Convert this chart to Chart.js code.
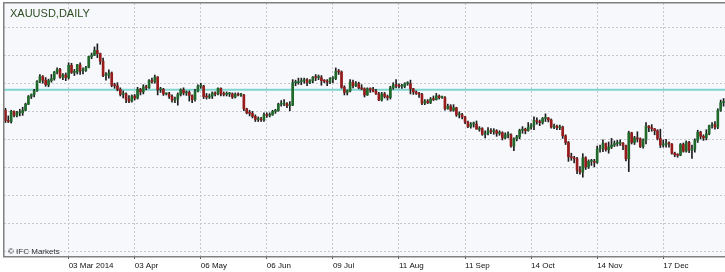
<!DOCTYPE html>
<html>
<head>
<meta charset="utf-8">
<title>XAUUSD, Daily</title>
<script src="https://cdn.jsdelivr.net/npm/chart.js@4.4.1/dist/chart.umd.min.js"></script>
<style>
    html, body { margin: 0; padding: 0; background: #ffffff; overflow: hidden; }
    #wrap { width: 725px; height: 272px; }
    #goldChart { display: block; }
</style>
</head>
<body>
<div id="wrap"><canvas id="goldChart" width="725" height="272"></canvas></div>
<script>
// ----------------- Données -----------------//
const firstDay = '2014-01-30';
const noBarDays = ['2014-12-25', '2015-01-01']; // pas de bougie ces jours-là

// labels de l'axe X et barre correspondante
const tickLabels = ['03 Mar 2014', '03 Apr', '06 May', '06 Jun', '09 Jul', '11 Aug', '11 Sep', '14 Oct', '14 Nov', '17 Dec'];
const tickBars = [22, 45, 68, 91, 114, 137, 160, 183, 206, 229];

// lignes de grille horizontales (prix) et ligne horizontale turquoise
const gridLevels = [1425, 1370, 1315, 1260, 1205, 1150, 1095, 1040, 985];
const levelLine = 1302;
const priceMin = 976.75;
const priceMax = 1472;

const opens = [
    1262, 1242, 1240, 1260, 1252, 1257, 1257, 1262, 1274, 1289,
    1293, 1300, 1318, 1328, 1321, 1312, 1320, 1324, 1337, 1342,
    1327, 1331, 1326, 1350, 1336, 1337, 1351, 1339, 1340, 1346,
    1367, 1370, 1379, 1373, 1358, 1330, 1331, 1335, 1311, 1310,
    1303, 1293, 1294, 1284, 1280, 1290, 1286, 1303, 1298, 1308,
    1306, 1320, 1318, 1327, 1302, 1303, 1294, 1294, 1289, 1282,
    1284, 1293, 1302, 1296, 1297, 1291, 1283, 1299, 1309, 1309,
    1289, 1288, 1290, 1296, 1294, 1305, 1294, 1293, 1294, 1294,
    1288, 1293, 1292, 1292, 1265, 1257, 1256, 1250, 1244, 1244,
    1243, 1253, 1252, 1253, 1260, 1261, 1274, 1274, 1275, 1271,
    1272, 1316, 1316, 1318, 1320, 1322, 1316, 1320, 1327, 1326,
    1326, 1320, 1319, 1317, 1324, 1324, 1338, 1337, 1307, 1297,
    1300, 1317, 1310, 1314, 1306, 1304, 1292, 1304, 1303, 1299,
    1294, 1282, 1294, 1289, 1287, 1306, 1312, 1310, 1309, 1309,
    1314, 1314, 1304, 1298, 1295, 1293, 1276, 1280, 1277, 1284,
    1283, 1290, 1287, 1287, 1265, 1270, 1262, 1267, 1253, 1253,
    1249, 1239, 1230, 1235, 1235, 1225, 1226, 1215, 1217, 1222,
    1220, 1222, 1217, 1218, 1208, 1214, 1214, 1192, 1206, 1210,
    1223, 1225, 1222, 1229, 1233, 1242, 1240, 1238, 1246, 1247,
    1243, 1229, 1231, 1228, 1229, 1212, 1199, 1171, 1169, 1167,
    1145, 1141, 1169, 1151, 1162, 1162, 1160, 1186, 1188, 1197,
    1185, 1190, 1194, 1197, 1197, 1198, 1193, 1167, 1218, 1199,
    1208, 1206, 1191, 1204, 1231, 1228, 1226, 1222, 1207, 1194,
    1195, 1198, 1196, 1178, 1175, 1174, 1195, 1182, 1199, 1184,
    1186, 1203, 1219, 1211, 1208, 1216, 1232, 1234, 1229, 1262, 1277
];
const highs = [
    1266, 1251, 1262, 1261, 1260, 1264, 1268, 1276, 1291, 1294,
    1303, 1320, 1332, 1330, 1326, 1323, 1332, 1338, 1345, 1344,
    1334, 1335, 1355, 1354, 1342, 1352, 1355, 1345, 1348, 1368,
    1374, 1386, 1392, 1374, 1364, 1336, 1341, 1337, 1315, 1316,
    1306, 1300, 1296, 1291, 1292, 1293, 1307, 1305, 1312, 1311,
    1322, 1325, 1331, 1328, 1307, 1305, 1296, 1297, 1292, 1288,
    1296, 1304, 1306, 1300, 1300, 1292, 1303, 1312, 1315, 1311,
    1295, 1294, 1298, 1298, 1306, 1306, 1298, 1298, 1297, 1296,
    1296, 1296, 1295, 1293, 1266, 1262, 1260, 1253, 1249, 1248,
    1257, 1257, 1257, 1262, 1264, 1276, 1281, 1283, 1277, 1279,
    1322, 1321, 1325, 1325, 1325, 1324, 1322, 1328, 1332, 1331,
    1330, 1322, 1322, 1326, 1328, 1345, 1342, 1339, 1310, 1302,
    1322, 1321, 1318, 1317, 1312, 1306, 1306, 1306, 1307, 1303,
    1297, 1297, 1297, 1292, 1309, 1316, 1322, 1314, 1313, 1316,
    1318, 1321, 1305, 1300, 1297, 1295, 1283, 1283, 1287, 1290,
    1295, 1292, 1290, 1289, 1274, 1273, 1273, 1268, 1259, 1256,
    1250, 1241, 1238, 1239, 1241, 1230, 1228, 1222, 1228, 1226,
    1226, 1224, 1222, 1220, 1218, 1220, 1216, 1208, 1213, 1225,
    1230, 1227, 1238, 1236, 1249, 1247, 1243, 1248, 1255, 1248,
    1245, 1235, 1233, 1233, 1231, 1214, 1201, 1178, 1172, 1170,
    1152, 1177, 1171, 1165, 1166, 1166, 1192, 1194, 1204, 1198,
    1200, 1207, 1202, 1203, 1204, 1199, 1194, 1221, 1219, 1211,
    1220, 1208, 1206, 1238, 1232, 1234, 1226, 1224, 1225, 1204,
    1205, 1200, 1197, 1180, 1177, 1197, 1198, 1202, 1201, 1194,
    1206, 1223, 1221, 1214, 1224, 1233, 1238, 1240, 1265, 1282, 1285
];
const lows = [
    1238, 1238, 1237, 1249, 1249, 1251, 1252, 1261, 1273, 1285,
    1288, 1299, 1316, 1315, 1309, 1308, 1317, 1321, 1333, 1325,
    1322, 1320, 1323, 1334, 1330, 1333, 1332, 1333, 1338, 1345,
    1363, 1369, 1365, 1352, 1328, 1321, 1325, 1308, 1305, 1300,
    1290, 1286, 1277, 1277, 1278, 1282, 1284, 1292, 1294, 1302,
    1305, 1315, 1315, 1292, 1297, 1291, 1292, 1285, 1278, 1277,
    1272, 1290, 1292, 1291, 1280, 1277, 1280, 1298, 1305, 1285,
    1284, 1285, 1285, 1290, 1292, 1290, 1290, 1290, 1289, 1285,
    1286, 1290, 1289, 1261, 1255, 1251, 1247, 1240, 1240, 1240,
    1240, 1248, 1249, 1252, 1256, 1260, 1270, 1271, 1267, 1261,
    1271, 1310, 1313, 1312, 1315, 1310, 1314, 1316, 1320, 1322,
    1311, 1316, 1310, 1314, 1316, 1322, 1332, 1305, 1292, 1292,
    1298, 1306, 1308, 1304, 1302, 1288, 1291, 1297, 1298, 1293,
    1281, 1280, 1286, 1282, 1284, 1303, 1306, 1306, 1305, 1306,
    1311, 1294, 1293, 1293, 1287, 1273, 1273, 1275, 1275, 1281,
    1282, 1284, 1285, 1262, 1264, 1260, 1260, 1250, 1247, 1245,
    1236, 1228, 1227, 1229, 1225, 1221, 1213, 1208, 1214, 1216,
    1215, 1211, 1213, 1204, 1206, 1208, 1190, 1183, 1202, 1206,
    1217, 1216, 1221, 1225, 1224, 1235, 1232, 1235, 1240, 1239,
    1227, 1226, 1224, 1224, 1207, 1195, 1162, 1164, 1159, 1138,
    1137, 1131, 1146, 1148, 1154, 1151, 1158, 1180, 1181, 1182,
    1178, 1187, 1191, 1192, 1193, 1185, 1163, 1142, 1196, 1195,
    1200, 1189, 1188, 1196, 1220, 1221, 1214, 1204, 1189, 1190,
    1190, 1190, 1176, 1171, 1170, 1173, 1180, 1180, 1179, 1168,
    1180, 1199, 1206, 1203, 1204, 1214, 1227, 1225, 1226, 1260, 1270
];
const closes = [
    1242, 1240, 1260, 1252, 1257, 1257, 1262, 1274, 1289, 1293,
    1300, 1318, 1328, 1321, 1312, 1320, 1324, 1337, 1342, 1327,
    1331, 1326, 1350, 1336, 1337, 1351, 1339, 1340, 1346, 1367,
    1370, 1379, 1373, 1358, 1330, 1331, 1335, 1311, 1310, 1303,
    1293, 1294, 1284, 1280, 1290, 1286, 1303, 1298, 1308, 1306,
    1320, 1318, 1327, 1302, 1303, 1294, 1294, 1289, 1282, 1284,
    1293, 1302, 1296, 1297, 1291, 1283, 1299, 1309, 1309, 1289,
    1288, 1290, 1296, 1294, 1305, 1294, 1293, 1294, 1294, 1288,
    1293, 1292, 1292, 1265, 1257, 1256, 1250, 1244, 1244, 1243,
    1253, 1252, 1253, 1260, 1261, 1274, 1274, 1275, 1271, 1272,
    1316, 1316, 1318, 1320, 1322, 1316, 1320, 1327, 1326, 1326,
    1320, 1319, 1317, 1324, 1324, 1338, 1337, 1307, 1297, 1300,
    1317, 1310, 1314, 1306, 1304, 1292, 1304, 1303, 1299, 1294,
    1282, 1294, 1289, 1287, 1306, 1312, 1310, 1309, 1309, 1314,
    1314, 1304, 1298, 1295, 1293, 1276, 1280, 1277, 1284, 1283,
    1290, 1287, 1287, 1265, 1270, 1262, 1267, 1253, 1253, 1249,
    1239, 1230, 1235, 1235, 1225, 1226, 1215, 1217, 1222, 1220,
    1222, 1217, 1218, 1208, 1214, 1214, 1192, 1206, 1210, 1223,
    1225, 1222, 1229, 1233, 1242, 1240, 1238, 1246, 1247, 1243,
    1229, 1231, 1228, 1229, 1212, 1199, 1171, 1169, 1167, 1145,
    1141, 1169, 1151, 1162, 1162, 1160, 1186, 1188, 1197, 1185,
    1190, 1194, 1197, 1197, 1198, 1193, 1167, 1218, 1199, 1208,
    1206, 1191, 1204, 1231, 1228, 1226, 1222, 1207, 1194, 1195,
    1198, 1196, 1178, 1175, 1174, 1195, 1182, 1199, 1184, 1186,
    1203, 1219, 1211, 1208, 1216, 1232, 1234, 1229, 1262, 1277, 1277
];

// calendrier des séances (jours ouvrés)
function tradingDays(start, count) {
    let out = [];
    let d = new Date(start + 'T00:00:00Z');
    while (out.length < count) {
        let iso = d.toISOString().slice(0, 10);
        let wd = d.getUTCDay();
        if (wd !== 0 && wd !== 6 && !noBarDays.includes(iso)) out.push(iso);
        d.setUTCDate(d.getUTCDate() + 1);
    }
    return out;
}
const dates = tradingDays(firstDay, closes.length);

// bougies = barres flottantes (corps + mèche)
const bodies = closes.map((c, i) => [Math.min(opens[i], c), Math.max(opens[i], c)]);
const wicks = lows.map((l, i) => [l, highs[i]]);
const bodyColors = closes.map((c, i) => c >= opens[i] ? '#1f6a2b' : '#981b1b');

const FONT = "'Liberation Sans', Arial, sans-serif";

// fond de la zone de tracé
const plotBackground = {
    id: 'plotBackground',
    beforeDraw(chart) {
        const { ctx, chartArea: a } = chart;
        ctx.save();
        ctx.fillStyle = '#f6f8fc';
        ctx.fillRect(a.left, a.top, a.right - a.left, a.bottom - a.top);
        ctx.restore();
    }
};

// ligne horizontale turquoise (derrière les bougies)
const levelLinePlugin = {
    id: 'levelLine',
    beforeDatasetsDraw(chart) {
        const { ctx, chartArea: a, scales } = chart;
        const y = scales.y.getPixelForValue(levelLine);
        ctx.save();
        ctx.strokeStyle = '#7fd5cf';
        ctx.lineWidth = 2;
        ctx.beginPath();
        ctx.moveTo(a.left, y);
        ctx.lineTo(a.right, y);
        ctx.stroke();
        ctx.restore();
    }
};

// cadre (haut, gauche, bas) + titre + copyright
const framePlugin = {
    id: 'frame',
    afterDraw(chart) {
        const { ctx, chartArea: a } = chart;
        ctx.save();
        ctx.fillStyle = '#808080';
        ctx.fillRect(a.left - 1, a.top - 1, a.right - a.left + 1, 1.5);   // haut
        ctx.fillRect(a.left - 1, a.top - 1, 1.5, a.bottom - a.top + 2);   // gauche
        ctx.fillRect(a.left - 1, a.bottom, a.right - a.left + 1, 1.5);    // bas

        ctx.textBaseline = 'middle';
        ctx.textAlign = 'left';
        ctx.fillStyle = '#2f4d22';
        ctx.font = '11px ' + FONT;
        ctx.fillText('XAUUSD,DAILY', a.left + 6, a.top + 11);

        ctx.fillStyle = '#333333';
        ctx.font = '8px ' + FONT;
        ctx.fillText('© IFC Markets', a.left + 4, a.bottom - 4);
        ctx.restore();
    }
};

new Chart(document.getElementById('goldChart').getContext('2d'), {
    type: 'bar',
    data: {
        labels: dates,
        datasets: [{
            label: 'Corps',
            data: bodies,
            backgroundColor: bodyColors,
            borderWidth: 0,
            barThickness: 2,
            minBarLength: 1,
            grouped: false
        }, {
            label: 'Mèche',
            data: wicks,
            backgroundColor: '#1e1e1e',
            borderWidth: 0,
            barThickness: 1,
            grouped: false
        }]
    },
    options: {
        responsive: false,
        devicePixelRatio: 1,
        animation: false,
        layout: { padding: { left: 4, top: 3, right: 0, bottom: 0 } },
        plugins: {
            legend: { display: false },
            tooltip: { enabled: false }
        },
        scales: {
            x: {
                type: 'category',
                offset: true,
                afterBuildTicks: function (scale) {
                    scale.ticks = tickBars.map(v => ({ value: v }));
                },
                afterFit: function (scale) {
                    scale.height = 16;
                },
                grid: {
                    offset: false,
                    color: '#c4c6ca',
                    lineWidth: 1,
                    drawTicks: true,
                    tickLength: 3,
                    tickColor: '#555555',
                    tickBorderDash: []
                },
                border: { display: false, dash: [2, 2] },
                ticks: {
                    autoSkip: false,
                    maxRotation: 0,
                    align: 'start',
                    padding: 2,
                    color: '#111111',
                    font: { family: FONT, size: 8 },
                    callback: function (value, index) {
                        return tickLabels[index];
                    }
                }
            },
            y: {
                type: 'linear',
                min: priceMin,
                max: priceMax,
                bounds: 'data',
                afterBuildTicks: function (scale) {
                    scale.ticks = gridLevels.map(v => ({ value: v }));
                },
                grid: {
                    color: '#c4c6ca',
                    lineWidth: 1,
                    drawTicks: false
                },
                border: { display: false, dash: [2, 2] },
                ticks: { display: false }
            }
        }
    },
    plugins: [plotBackground, levelLinePlugin, framePlugin]
});
</script>
</body>
</html>
